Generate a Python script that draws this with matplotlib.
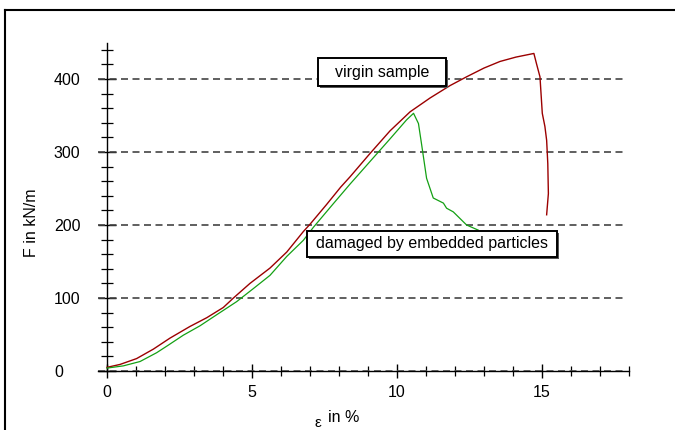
import matplotlib
matplotlib.use('Agg')
from matplotlib import pyplot as plt
from matplotlib.patches import Rectangle
from matplotlib.lines import Line2D
from matplotlib.ticker import MultipleLocator

plt.rcParams['font.family'] = ['Liberation Sans', 'DejaVu Sans']

# virgin sample: strain (%) / force (kN/m)
virgin_eps = [0, 0.45, 1.02, 1.6, 2.17, 2.86, 3.44, 4.01, 4.36, 4.93, 5.62, 6.2,
              6.77, 7.0, 7.57, 8.06, 8.38, 9.07, 9.76, 10.45, 11.14, 11.83, 12.4,
              13.0, 13.55, 14.1, 14.72, 14.81, 14.93, 15.01, 15.1, 15.16, 15.2,
              15.22, 15.16]
virgin_F = [5, 9, 17, 30, 45, 61, 73, 87, 100, 120, 141, 163,
            191, 201, 228, 252, 266, 298, 329, 355, 374, 391, 403,
            415, 424, 430, 435, 421, 403, 353, 335, 316, 284,
            243, 214]

# damaged by embedded particles
damaged_eps = [0, 0.56, 1.14, 1.71, 2.06, 2.63, 3.21, 3.78, 4.47, 5.05, 5.62, 6.2,
               6.77, 7.12, 7.8, 8.38, 9.07, 9.76, 10.33, 10.57, 10.74, 10.85, 11.02,
               11.25, 11.6, 11.71, 11.94, 12.4, 12.8]
damaged_F = [4, 7, 13, 25, 34, 49, 62, 77, 95, 113, 131, 157,
             179, 197, 229, 256, 287, 318, 344, 353, 339, 310, 264,
             237, 230, 223, 218, 200, 193]

grid_levels = [0, 100, 200, 300, 400]

fig = plt.figure(figsize=(6.75, 4.3), dpi=100)
W, H = 675.0, 430.0
ax = fig.add_axes([98.3 / W, 59 / H, 530.7 / W, 328.5 / H])
ax.set_xlim(-0.3, 18)
ax.set_ylim(0, 450)

dash = (0, (4.2, 2.7))
ax.hlines(grid_levels, -0.3, 17.85, colors='#444444', linewidth=1.2,
          linestyles=[dash], zorder=3)

ax.plot(virgin_eps, virgin_F, color='#9b0000', linewidth=1.0, zorder=4)
ax.plot(damaged_eps, damaged_F, color='#14a014', linewidth=0.9, zorder=4)

for s in ['top', 'right']:
    ax.spines[s].set_visible(False)
ax.spines['left'].set_position(('data', 0))
ax.spines['left'].set_bounds(0, 450)
ax.spines['bottom'].set_position(('data', 0))
ax.spines['left'].set_linewidth(1.0)
ax.spines['bottom'].set_linewidth(1.0)

ax.xaxis.set_major_locator(MultipleLocator(5))
ax.xaxis.set_minor_locator(MultipleLocator(1))
ax.yaxis.set_major_locator(MultipleLocator(100))
ax.yaxis.set_minor_locator(MultipleLocator(20))
ax.set_xticks([0, 5, 10, 15])
ax.tick_params(axis='x', which='major', direction='inout', length=9.5, width=1.0,
               labelsize=11.5, pad=5.3)
ax.tick_params(axis='x', which='minor', direction='inout', length=7, width=0.9)
ax.tick_params(axis='y', which='major', direction='inout', length=13, width=1.0,
               labelsize=11.5, pad=31.7)
ax.tick_params(axis='y', which='minor', direction='inout', length=8.6, width=0.9)
for lab in ax.get_yticklabels():
    lab.set_horizontalalignment('left')

# x label: lowered epsilon followed by "in %"
ax.text(0.413, -0.157, 'ε', transform=ax.transAxes, fontsize=11,
        ha='center', va='center')
ax.text(0.432, -0.143, 'in %', transform=ax.transAxes, fontsize=11.5,
        ha='left', va='center')
ax.set_ylabel('F in kN/m', fontsize=11.5)
ax.yaxis.label.set_va('center')
ax.yaxis.set_label_coords(-0.125, 0.45)


def px_box(x0, y0, x1, y1, text, cx, cy):
    # shadow then box, given in pixels from top-left
    fig.patches.append(Rectangle(((x0 + 2) / W, 1 - (y1 + 2) / H), (x1 - x0) / W,
                                 (y1 - y0) / H, transform=fig.transFigure,
                                 facecolor='#555555', edgecolor='none', zorder=5))
    fig.patches.append(Rectangle((x0 / W, 1 - y1 / H), (x1 - x0) / W, (y1 - y0) / H,
                                 transform=fig.transFigure, facecolor='white',
                                 edgecolor='black', linewidth=1.4, zorder=6))
    fig.text(cx / W, 1 - cy / H, text, ha='center', va='center', fontsize=11.5,
             zorder=7)


px_box(318, 58, 446, 86, 'virgin sample', 382, 72)
px_box(307, 231, 557, 257, 'damaged by embedded particles', 432, 244)

# outer frame
fig.add_artist(Line2D([5 / W, 1], [1 - 10 / H, 1 - 10 / H], color='black', linewidth=1.5))
fig.add_artist(Line2D([5 / W, 5 / W], [0, 1 - 10 / H], color='black', linewidth=1.5))

plt.savefig('out.png', dpi=100)
